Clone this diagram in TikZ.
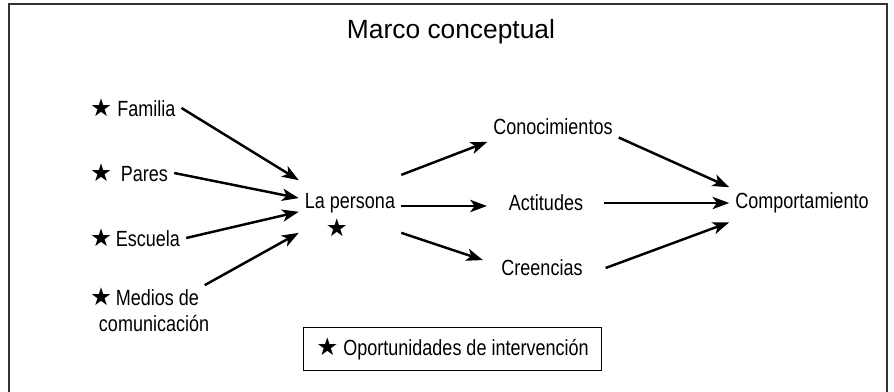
\documentclass[tikz,border=0pt]{standalone}
\usepackage{fontspec}
\setmainfont[FakeStretch=0.82]{Liberation Sans}
\newfontfamily\titlefont{Liberation Sans}
\newfontfamily\symfont{DejaVu Sans}
\usetikzlibrary{arrows.meta}
\newcommand{\estrella}{{\symfont\fontsize{14}{14}\selectfont ★}}
\tikzset{flecha/.style={-{Stealth[length=9.5pt,width=7pt,inset=2.5pt]}, line width=1.4pt}}

\begin{document}
\begin{tikzpicture}[x=0.02cm, y=-0.02cm, font=\fontsize{12.5}{15}\selectfont]
    \useasboundingbox (0,0) rectangle (894,392);
    \draw [line width=0.9pt, black!80] (9,4) rectangle (887,400);
    \path (451,32) node [font=\titlefont\fontsize{15}{18}\selectfont] (tit) {Marco conceptual};
    \path (84,108) node [anchor=west] (fam) {\estrella\ Familia};
    \path (84,173) node [anchor=west] (par) {\estrella\ \,Pares};
    \path (84,238) node [anchor=west] (esc) {\estrella\,Escuela};
    \path (84,310) node [anchor=west, align=left] (med) {\estrella\,Medios de\\\hspace*{5pt}comunicación};
    \path (350,203) node (per) {La persona};
    \path (337,228) node (pst) {\estrella};
    \draw [flecha] (fam.east) -- ([yshift=13pt]per.west);
    \draw [flecha] (par.east) -- ([yshift=2.8pt]per.west);
    \draw [flecha] (esc.east) -- ([yshift=-5pt]per.west);
    \draw [flecha] ([xshift=-6pt,yshift=-2pt]med.north east) -- ([yshift=-17pt]per.west);
    \path (553,127) node (con) {Conocimientos};
    \path (546,203) node (act) {Actitudes};
    \path (542,268) node (cre) {Creencias};
    \draw [flecha] ([yshift=16pt]per.east) -- ([yshift=-8.5pt]con.west);
    \draw [flecha] ([yshift=-1.7pt]per.east) -- ([xshift=-9pt,yshift=-1.7pt]act.west);
    \draw [flecha] ([yshift=-17pt]per.east) -- ([xshift=-7pt,yshift=4.5pt]cre.west);
    \path (802,203) node (com) {Comportamiento};
    \draw [flecha] ([yshift=-6pt]con.east) -- ([yshift=9pt]com.west);
    \draw [flecha] ([xshift=8.5pt]act.east) -- (com.west);
    \draw [flecha] ([xshift=9.6pt]cre.east) -- ([yshift=-11pt]com.west);
    \path (452.5,349) node [draw, line width=0.6pt, minimum width=170pt, minimum height=24pt] (ley) {\estrella\ Oportunidades de intervención};
\end{tikzpicture}
\end{document}
